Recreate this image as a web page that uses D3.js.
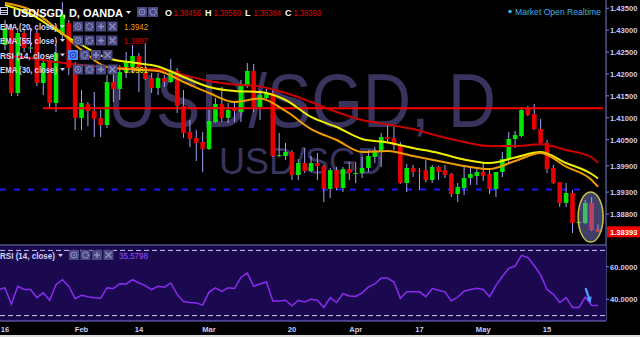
<!DOCTYPE html>
<html>
<head>
<meta charset="utf-8">
<script src="https://cdn.jsdelivr.net/npm/d3@7"></script>
<style>
  body { margin: 0; background: #000; }
  svg { display: block; }
</style>
</head>
<body>
<div id="chart"></div>
<script>
const WIDTH = 640, HEIGHT = 337;
const AXIS_X = 606;
const MAIN_BOTTOM = 245, RSI_TOP = 246, RSI_BOTTOM = 321;

// daily candles [open, high, low, close], Jan 16 -> May 25
const candles = [
  [1.42662, 1.43233, 1.42547, 1.43050], [1.43050, 1.43142, 1.41496, 1.41565],
  [1.41565, 1.43050, 1.41496, 1.42936], [1.42936, 1.43004, 1.42502, 1.42593],
  [1.42582, 1.43050, 1.42479, 1.42605], [1.42936, 1.43004, 1.41725, 1.41793],
  [1.41793, 1.42365, 1.41519, 1.42250], [1.42319, 1.42410, 1.41222, 1.41336],
  [1.41336, 1.42662, 1.41131, 1.42479], [1.42890, 1.43644, 1.42776, 1.43370],
  [1.43164, 1.43233, 1.41976, 1.42136], [1.42136, 1.42273, 1.40719, 1.40994],
  [1.40994, 1.41633, 1.40719, 1.41336], [1.41314, 1.41359, 1.40811, 1.41154],
  [1.41154, 1.41588, 1.40560, 1.40971], [1.40994, 1.41176, 1.40560, 1.40834],
  [1.40834, 1.41976, 1.40765, 1.41816], [1.41816, 1.42022, 1.41359, 1.41656],
  [1.41656, 1.42205, 1.41405, 1.42045], [1.42045, 1.42502, 1.41908, 1.42273],
  [1.42159, 1.42662, 1.42022, 1.42410], [1.42410, 1.42479, 1.41588, 1.42159],
  [1.42022, 1.42707, 1.41862, 1.41885], [1.41908, 1.42022, 1.41565, 1.41679],
  [1.41679, 1.42022, 1.41519, 1.41908], [1.41908, 1.41976, 1.41702, 1.41816],
  [1.41816, 1.42342, 1.41793, 1.42068], [1.42068, 1.42136, 1.41108, 1.41268],
  [1.41268, 1.41633, 1.40537, 1.40651], [1.40674, 1.40948, 1.40331, 1.40514],
  [1.40537, 1.40719, 1.40011, 1.40422], [1.40445, 1.40674, 1.39760, 1.40285],
  [1.40285, 1.41176, 1.40262, 1.40925], [1.40902, 1.41451, 1.40879, 1.41314],
  [1.41314, 1.41702, 1.40902, 1.40994], [1.40994, 1.41336, 1.40879, 1.41176],
  [1.41222, 1.41336, 1.40902, 1.41154], [1.41131, 1.41862, 1.40902, 1.41771],
  [1.41748, 1.42250, 1.41679, 1.42068], [1.42068, 1.42228, 1.41131, 1.41245],
  [1.41245, 1.41633, 1.40948, 1.41519], [1.41451, 1.41656, 1.41405, 1.41565],
  [1.41565, 1.41633, 1.40103, 1.40125], [1.40137, 1.40651, 1.40103, 1.40148],
  [1.40125, 1.40422, 1.40034, 1.40217], [1.40217, 1.40262, 1.39577, 1.39691],
  [1.39691, 1.40057, 1.39577, 1.39965], [1.39965, 1.40308, 1.39737, 1.39783],
  [1.39783, 1.40125, 1.39760, 1.39965], [1.39965, 1.40194, 1.39577, 1.39897],
  [1.39897, 1.39920, 1.39074, 1.39371], [1.39371, 1.39851, 1.39166, 1.39805],
  [1.39805, 1.39874, 1.39348, 1.39394], [1.39394, 1.39874, 1.39303, 1.39828],
  [1.39828, 1.39988, 1.39577, 1.39737], [1.39726, 1.39988, 1.39508, 1.39737],
  [1.39737, 1.40103, 1.39623, 1.39851], [1.39851, 1.40262, 1.39760, 1.40125],
  [1.40103, 1.40331, 1.39965, 1.40217], [1.40217, 1.40651, 1.39874, 1.40560],
  [1.40560, 1.40857, 1.40445, 1.40514], [1.40537, 1.40811, 1.40262, 1.40377],
  [1.40377, 1.40445, 1.39486, 1.39508], [1.39508, 1.39943, 1.39303, 1.39851],
  [1.39851, 1.39920, 1.39646, 1.39760], [1.39794, 1.39851, 1.39348, 1.39783],
  [1.39805, 1.40034, 1.39531, 1.39577], [1.39577, 1.39920, 1.39508, 1.39874],
  [1.39874, 1.39897, 1.39577, 1.39760], [1.39805, 1.39920, 1.39623, 1.39691],
  [1.39714, 1.39737, 1.39189, 1.39257], [1.39257, 1.39508, 1.39074, 1.39417],
  [1.39394, 1.39920, 1.39234, 1.39623], [1.39623, 1.39897, 1.39463, 1.39714],
  [1.39668, 1.39828, 1.39463, 1.39760], [1.39760, 1.39965, 1.39554, 1.39668],
  [1.39714, 1.39805, 1.39257, 1.39371], [1.39371, 1.39760, 1.39189, 1.39760],
  [1.39760, 1.40217, 1.39646, 1.40057], [1.40057, 1.40674, 1.39965, 1.40514],
  [1.40514, 1.40697, 1.40308, 1.40605], [1.40582, 1.41245, 1.40560, 1.41176],
  [1.41199, 1.41268, 1.41039, 1.41062], [1.41085, 1.41314, 1.40719, 1.40742],
  [1.40742, 1.40971, 1.40377, 1.40422], [1.40422, 1.40491, 1.39737, 1.39828],
  [1.39851, 1.39920, 1.39486, 1.39508], [1.39531, 1.39531, 1.38960, 1.39051],
  [1.39051, 1.39508, 1.38960, 1.39280], [1.39280, 1.39348, 1.38366, 1.38594],
  [1.38594, 1.38663, 1.38572, 1.38617], [1.38594, 1.39120, 1.38572, 1.39051],
  [1.39051, 1.39189, 1.38412, 1.38434], [1.38456, 1.38560, 1.38384, 1.38393]
];

// moving averages, read every 4th bar
const emaIdx = [0, 4, 8, 12, 16, 20, 24, 28, 32, 36, 40, 44, 48, 52, 56, 60, 64, 68, 72, 76, 80, 84, 88, 92, 93];
const ema20 = [1.43621, 1.43461, 1.43050, 1.42547, 1.42159, 1.42102, 1.42068, 1.41816, 1.41565, 1.41359, 1.41439, 1.41154,
  1.40742, 1.40491, 1.40217, 1.40240, 1.40125, 1.40011, 1.39897, 1.39828, 1.40011, 1.40194, 1.39881, 1.39577, 1.39420];
const ema30 = [1.43576, 1.43370, 1.43004, 1.42662, 1.42365, 1.42262, 1.42171, 1.41931, 1.41702, 1.41611, 1.41588, 1.41405,
  1.41017, 1.40788, 1.40514, 1.40434, 1.40308, 1.40194, 1.40045, 1.39965, 1.40091, 1.40217, 1.39965, 1.39714, 1.39610];
const ema55 = [1.42410, 1.42365, 1.42273, 1.42205, 1.42159, 1.42125, 1.42102, 1.41976, 1.41839, 1.41759, 1.41714, 1.41565,
  1.41359, 1.41131, 1.40948, 1.40845, 1.40742, 1.40582, 1.40445, 1.40354, 1.40354, 1.40393, 1.40262, 1.40091, 1.39970];

// RSI(14), first value belongs to the bar just left of Jan 16
const rsiStart = -1;
const rsi = [46, 47, 37, 48, 46, 46, 41, 44, 39.4, 49, 52, 48, 40.4, 42.4, 41.6, 41, 40.6, 47, 46.6, 49.6, 49.4,
  52, 50, 48.4, 46, 48, 47.4, 50, 43, 38.6, 38, 37.8, 36.4, 44.4, 47, 44.8, 47, 46.6, 53.4, 56, 48,
  49.4, 50.6, 39, 39, 39.4, 36, 39.4, 38.4, 40, 39.4, 35, 41, 38, 43.4, 42, 41.8, 44, 47.6, 49.4, 53,
  53, 50.6, 40.6, 44.6, 44.6, 44.6, 41.6, 46.6, 45.6, 44.6, 39, 41.4, 45, 46, 46.8, 46, 41.6, 48.6, 54, 59,
  60.4, 67, 65.6, 60.6, 55, 46, 43, 38, 41, 35, 35, 41.4, 36.4, 36.2];
const rsiLabel = "35.5798";

const priceTicks = [1.435, 1.430, 1.425, 1.420, 1.415, 1.410, 1.405, 1.399, 1.393, 1.388];
const rsiTicks = [60, 40];
const rsiBands = [70, 30];
const dateTickIdx = [0, 12, 21, 32, 45, 55, 65, 75, 85];
const dateTickLabels = ["16", "Feb", "14", "Mar", "20", "Apr", "17", "May", "15"];

const resistance = 1.41215;
const support = 1.39360;
const lastPrice = 1.38393;
const ohlcLabels = ["O", "H", "L", "C"];
const ohlcValues = ["1.38456", "1.38560", "1.38384", "1.38393"];
const legendRows = [
  { name: "EMA (20, close)", value: "1.3942", color: "#f29d00" },
  { name: "EMA (55, close)", value: "1.3997", color: "#d40000" },
  { name: "RSI (14, close)", value: "", color: "#9d4dff" },
  { name: "EMA (30, close)", value: "1.3961", color: "#f2e600" }
];

const FONT = "'Liberation Sans', Arial, sans-serif";
const AXIS_TEXT = "#c9c9f5";

const svg = d3.select("#chart").append("svg")
  .attr("width", WIDTH).attr("height", HEIGHT)
  .style("background", "#000");

const x = d3.scaleLinear().domain([0, 93]).range([5, 598]);
const y = d3.scaleLinear().domain([1.388, 1.435]).range([214, 8.3]);
const yR = d3.scaleLinear().domain([30, 70]).range([315.6, 250.4]);

svg.append("defs").append("clipPath").attr("id", "mainclip")
  .append("rect").attr("x", 0).attr("y", 0).attr("width", AXIS_X).attr("height", MAIN_BOTTOM);
svg.select("defs").append("clipPath").attr("id", "rsiclip")
  .append("rect").attr("x", 0).attr("y", RSI_TOP).attr("width", AXIS_X).attr("height", RSI_BOTTOM - RSI_TOP);

const main = svg.append("g").attr("clip-path", "url(#mainclip)");

// watermark
main.append("text")
  .attr("x", 108).attr("y", 127)
  .attr("font-family", FONT).attr("font-size", 76)
  .attr("textLength", 388).attr("lengthAdjust", "spacingAndGlyphs")
  .attr("fill", "#38345e")
  .text("USD/SGD, D");
main.append("text")
  .attr("x", 219).attr("y", 174)
  .attr("font-family", FONT).attr("font-size", 36)
  .attr("textLength", 164).attr("lengthAdjust", "spacingAndGlyphs")
  .attr("fill", "#38345e")
  .text("USD/SGD");

// support line (blue dashed)
main.append("line")
  .attr("x1", 0).attr("x2", 586)
  .attr("y1", y(support)).attr("y2", y(support))
  .attr("stroke", "#1a1aff").attr("stroke-width", 2)
  .attr("stroke-dasharray", "6,8");

// candles
const bodyW = 4.6;
const cg = main.append("g");
cg.selectAll("line.wick").data(candles).enter().append("line")
  .attr("class", "wick")
  .attr("x1", (d, i) => x(i)).attr("x2", (d, i) => x(i))
  .attr("y1", d => y(d[1])).attr("y2", d => y(d[2]))
  .attr("stroke", "#a3a3f5").attr("stroke-width", 1);
cg.selectAll("rect.body").data(candles).enter().append("rect")
  .attr("class", "body")
  .attr("x", (d, i) => x(i) - bodyW / 2)
  .attr("width", bodyW)
  .attr("y", d => y(Math.max(d[0], d[3])))
  .attr("height", d => Math.max(1, Math.abs(y(d[0]) - y(d[3]))))
  .attr("fill", d => d[3] >= d[0] ? "#00e600" : "#e60000");

// resistance line
main.append("line")
  .attr("x1", 43).attr("x2", 603)
  .attr("y1", y(resistance)).attr("y2", y(resistance))
  .attr("stroke", "#ff0000").attr("stroke-width", 2);

// moving averages
const emaLine = d3.line()
  .x((d, k) => x(emaIdx[k]))
  .y(d => y(d))
  .curve(d3.curveMonotoneX);
[[ema55, "#cc0000"], [ema30, "#eeee00"], [ema20, "#f39c00"]].forEach(([s, c]) => {
  main.append("path").datum(s)
    .attr("d", emaLine)
    .attr("fill", "none").attr("stroke", c).attr("stroke-width", 2);
});

// highlight ellipse
main.append("ellipse")
  .attr("cx", x(92) - 1).attr("cy", y(1.3873))
  .attr("rx", 12.5).attr("ry", 25)
  .attr("fill", "rgba(140,140,230,0.45)")
  .attr("stroke", "#c9c24a").attr("stroke-width", 1.5);

// pane borders
svg.append("line").attr("x1", AXIS_X).attr("x2", AXIS_X).attr("y1", 0).attr("y2", RSI_BOTTOM)
  .attr("stroke", "#7a7ad8").attr("stroke-width", 1);
svg.append("line").attr("x1", 0).attr("x2", AXIS_X).attr("y1", MAIN_BOTTOM).attr("y2", MAIN_BOTTOM)
  .attr("stroke", "#7a7ad8").attr("stroke-width", 1);

// price axis
const pAxis = svg.append("g");
priceTicks.forEach(t => {
  pAxis.append("line").attr("x1", AXIS_X).attr("x2", AXIS_X + 3)
    .attr("y1", y(t)).attr("y2", y(t)).attr("stroke", "#7a7ad8");
  pAxis.append("text").attr("x", 610).attr("y", y(t) + 3)
    .attr("font-family", FONT).attr("font-size", 7.6).attr("font-weight", "bold")
    .attr("fill", AXIS_TEXT).text(t.toFixed(5));
});
pAxis.append("rect").attr("x", AXIS_X + 1).attr("y", y(lastPrice) - 5.5)
  .attr("width", 33).attr("height", 11).attr("fill", "#f00000");
pAxis.append("text").attr("x", 610).attr("y", y(lastPrice) + 3)
  .attr("font-family", FONT).attr("font-size", 7.6).attr("font-weight", "bold")
  .attr("fill", "#fff").text(lastPrice.toFixed(5));

// RSI pane
svg.append("rect").attr("x", 0).attr("y", RSI_TOP)
  .attr("width", AXIS_X).attr("height", RSI_BOTTOM - RSI_TOP).attr("fill", "#1b0950");
svg.append("line").attr("x1", 0).attr("x2", AXIS_X).attr("y1", RSI_BOTTOM).attr("y2", RSI_BOTTOM)
  .attr("stroke", "#7a7ad8");
rsiBands.forEach(b => {
  svg.append("line").attr("x1", 0).attr("x2", AXIS_X)
    .attr("y1", yR(b)).attr("y2", yR(b))
    .attr("stroke", "#c8c8ee").attr("stroke-dasharray", "5,3");
});
svg.append("path").datum(rsi)
  .attr("clip-path", "url(#rsiclip)")
  .attr("d", d3.line().x((d, i) => x(i + rsiStart)).y(d => yR(d)))
  .attr("fill", "none").attr("stroke", "#8a2cf0").attr("stroke-width", 1.5);
rsiTicks.forEach(t => {
  svg.append("line").attr("x1", AXIS_X).attr("x2", AXIS_X + 3)
    .attr("y1", yR(t)).attr("y2", yR(t)).attr("stroke", "#7a7ad8");
  svg.append("text").attr("x", 610).attr("y", yR(t) + 3)
    .attr("font-family", FONT).attr("font-size", 7.6).attr("font-weight", "bold")
    .attr("fill", AXIS_TEXT).text(t.toFixed(4));
});
// arrow drawing on RSI pane
const ax = x(92) - 3, ay = yR(rsi[rsi.length - 2]);
svg.append("path")
  .attr("d", `M${ax - 3},${ay - 17} L${ax + 1},${ay - 5}`)
  .attr("stroke", "#4aa3ff").attr("stroke-width", 2.2).attr("fill", "none");
svg.append("path")
  .attr("d", `M${ax - 2},${ay - 7} L${ax + 2},${ay - 2} L${ax + 3},${ay - 9} Z`)
  .attr("fill", "#4aa3ff");

// date axis
dateTickIdx.forEach((t, k) => {
  svg.append("text").attr("x", x(t)).attr("y", 332)
    .attr("text-anchor", "middle")
    .attr("font-family", FONT).attr("font-size", 7.6).attr("font-weight", "bold")
    .attr("fill", AXIS_TEXT).text(dateTickLabels[k]);
});
svg.append("rect").attr("x", 0).attr("y", 335).attr("width", WIDTH).attr("height", 2).attr("fill", "#dcdcdc");

// header
function iconBox(g, bx, by, kind, active) {
  g.append("rect").attr("x", bx).attr("y", by).attr("width", 10).attr("height", 10)
    .attr("fill", active ? "#4f86ff" : "#4a4a80");
  const cx = bx + 5, cy = by + 5, col = active ? "#1b3fa8" : "#8f8fc8";
  if (kind === "eye") {
    g.append("circle").attr("cx", cx).attr("cy", cy).attr("r", 3).attr("fill", "none").attr("stroke", col);
    g.append("circle").attr("cx", cx).attr("cy", cy).attr("r", 1).attr("fill", col);
  } else if (kind === "gear") {
    g.append("circle").attr("cx", cx).attr("cy", cy).attr("r", 3).attr("fill", "none")
      .attr("stroke", col).attr("stroke-width", 1.6).attr("stroke-dasharray", "1.5,1");
  } else if (kind === "plus") {
    g.append("path").attr("d", `M${cx - 3},${cy}H${cx + 3}M${cx},${cy - 3}V${cy + 3}`).attr("stroke", col).attr("stroke-width", 1.4);
  } else {
    g.append("path").attr("d", `M${cx - 3},${cy - 3}L${cx + 3},${cy + 3}M${cx + 3},${cy - 3}L${cx - 3},${cy + 3}`).attr("stroke", col).attr("stroke-width", 1.4);
  }
}

const hdr = svg.append("g");
hdr.append("rect").attr("x", 0.5).attr("y", 7.5).attr("width", 7).attr("height", 7)
  .attr("fill", "none").attr("stroke", "#c9c9f5");
hdr.append("path").attr("d", "M0.5,10.5H7.5M0.5,12.5H7.5").attr("stroke", "#c9c9f5");
hdr.append("text").attr("x", 13).attr("y", 17)
  .attr("font-family", FONT).attr("font-size", 11.5).attr("font-weight", "bold")
  .attr("textLength", 110).attr("lengthAdjust", "spacingAndGlyphs")
  .attr("fill", "#ffffff").text("USD/SGD, D, OANDA");
hdr.append("path").attr("d", "M126,11H131L128.5,14Z").attr("fill", "#ffffff");
iconBox(hdr, 137, 7, "eye");
iconBox(hdr, 148, 7, "gear");
const ohlcX = [165, 205, 245, 285];
ohlcLabels.forEach((l, k) => {
  hdr.append("text").attr("x", ohlcX[k]).attr("y", 16)
    .attr("font-family", FONT).attr("font-size", 9).attr("font-weight", "bold")
    .attr("fill", "#ffffff").text(l);
  hdr.append("text").attr("x", ohlcX[k] + 8.5).attr("y", 16)
    .attr("font-family", FONT).attr("font-size", 9)
    .attr("textLength", 27.5).attr("lengthAdjust", "spacingAndGlyphs")
    .attr("fill", "#e00000").text(ohlcValues[k]);
});
hdr.append("circle").attr("cx", 510).attr("cy", 11.5).attr("r", 1.8).attr("fill", "#3ab0e8");
hdr.append("text").attr("x", 515).attr("y", 15)
  .attr("font-family", FONT).attr("font-size", 8.5)
  .attr("textLength", 86).attr("lengthAdjust", "spacingAndGlyphs")
  .attr("fill", "#3ab0e8").text("Market Open Realtime");

// indicator legends
const legendY = [30, 44, 58.5, 73];
legendRows.forEach((r, k) => {
  const ly = legendY[k];
  hdr.append("text").attr("x", 0).attr("y", ly)
    .attr("font-family", FONT).attr("font-size", 9).attr("font-weight", "bold")
    .attr("textLength", 57).attr("lengthAdjust", "spacingAndGlyphs")
    .attr("fill", "#d2d2f5").text(r.name);
  hdr.append("path").attr("d", `M60,${ly - 5}H65L62.5,${ly - 2}Z`).attr("fill", "#d2d2f5");
  const bx = k === 2 ? 68 : 73;
  ["eye", "gear", "plus", "x"].forEach((kind, j) => iconBox(hdr, bx + j * 11.5, ly - 8.5, kind, k === 2 && j === 0));
  if (r.value) {
    hdr.append("text").attr("x", 124).attr("y", ly)
      .attr("font-family", FONT).attr("font-size", 9)
      .attr("textLength", 24).attr("lengthAdjust", "spacingAndGlyphs")
      .attr("fill", r.color).text(r.value);
  }
});

// RSI legend
const rl = svg.append("g");
rl.append("text").attr("x", 0).attr("y", 259)
  .attr("font-family", FONT).attr("font-size", 8.5).attr("font-weight", "bold")
  .attr("textLength", 55).attr("lengthAdjust", "spacingAndGlyphs")
  .attr("fill", "#d2d2f5").text("RSI (14, close)");
rl.append("path").attr("d", "M58,254H63L60.5,257Z").attr("fill", "#d2d2f5");
["eye", "gear", "plus", "x"].forEach((kind, j) => iconBox(rl, 69 + j * 11.5, 250, kind, false));
rl.append("text").attr("x", 119).attr("y", 259)
  .attr("font-family", FONT).attr("font-size", 8.5)
  .attr("textLength", 29).attr("lengthAdjust", "spacingAndGlyphs")
  .attr("fill", "#9d4dff").text(rsiLabel);
</script>
</body>
</html>
